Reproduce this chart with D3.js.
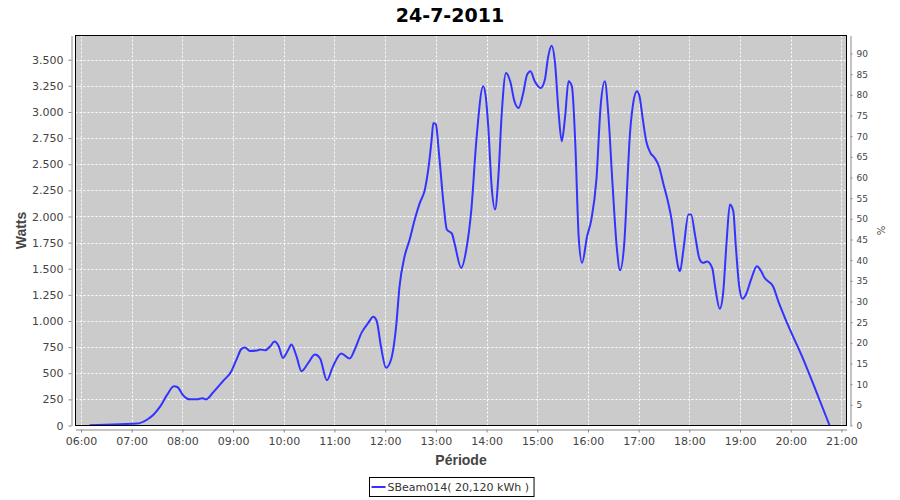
<!DOCTYPE html>
<html>
<head>
<meta charset="utf-8">
<script src="https://cdn.jsdelivr.net/npm/d3@7"></script>
<style>
  html, body { margin: 0; padding: 0; background: #ffffff; }
  svg { display: block; }
</style>
</head>
<body>
<svg id="chart" width="900" height="500"></svg>
<script>
// ---------------- data ----------------
const chartTitle = "24-7-2011";
const seriesName = "SBeam014( 20,120 kWh )";
const times = [
  "06:10","06:38","07:06","07:18","07:26","07:34","07:42","07:50","07:54","08:01",
  "08:09","08:17","08:24","08:28","08:36","08:48","08:58","09:04","09:10","09:14",
  "09:20","09:28","09:32","09:38","09:44","09:49","09:54","09:59","10:05","10:09",
  "10:15","10:21","10:29","10:37","10:43","10:51","10:58","11:08","11:18","11:24",
  "11:32","11:40","11:46","11:50","11:55","12:01","12:07","12:13","12:17","12:23",
  "12:29","12:35","12:41","12:47","12:51","12:55","12:57","13:00","13:04","13:09",
  "13:13","13:19","13:22","13:30","13:36","13:42","13:48","13:56","13:59","14:02",
  "14:06","14:10","14:14","14:18","14:23","14:28","14:33","14:38","14:43","14:48",
  "14:52","14:57","15:04","15:09","15:13","15:17","15:21","15:25","15:29","15:33",
  "15:37","15:41","15:45","15:49","15:53","15:59","16:04","16:10","16:15","16:20",
  "16:24","16:29","16:34","16:38","16:43","16:47","16:49","16:53","16:58","17:01",
  "17:05","17:09","17:14","17:19","17:24","17:29","17:35","17:39","17:43","17:47",
  "17:49","17:53","17:59","18:02","18:07","18:12","18:16","18:21","18:27","18:31",
  "18:36","18:40","18:44","18:48","18:52","18:55","18:59","19:03","19:07","19:13",
  "19:20","19:25","19:29","19:39","19:46","19:56","20:14","20:30","20:46"
];
const watts = [
  3,10,18,55,105,185,295,375,368,287,
  250,250,261,250,313,424,520,630,733,746,
  714,717,727,720,758,803,758,647,720,775,
  663,520,600,679,641,433,561,689,641,727,
  886,982,1040,998,758,552,631,950,1332,1619,
  1779,1970,2130,2257,2448,2735,2895,2880,2575,2130,
  1875,1836,1747,1508,1683,2066,2735,3245,3150,2862,
  2289,2066,2384,2990,3373,3293,3102,3038,3166,3357,
  3389,3293,3230,3309,3532,3634,3469,3022,2719,2958,
  3293,3245,2704,1810,1556,1810,1970,2353,3054,3293,
  2990,2321,1715,1485,1747,2384,2704,3054,3197,3150,
  2927,2719,2608,2560,2480,2321,2130,1970,1715,1508,
  1476,1683,2018,2018,1810,1594,1556,1568,1508,1301,
  1116,1269,1747,2114,2050,1715,1332,1212,1253,1396,
  1524,1476,1413,1332,1173,975,650,330,0
];
const wattTicks = [0,250,500,750,1000,1250,1500,1750,2000,2250,2500,2750,3000,3250,3500];
const percentTicks = [0,5,10,15,20,25,30,35,40,45,50,55,60,65,70,75,80,85,90];
const hourTicks = ["06:00","07:00","08:00","09:00","10:00","11:00","12:00","13:00",
                   "14:00","15:00","16:00","17:00","18:00","19:00","20:00","21:00"];
const xDomainLabels = ["05:53:30","21:06:00"];
const wattMax = 3731.5;
const percentMax = 94.35;

// ---------------- layout ----------------
const svg = d3.select("#chart");
const plot = { left: 75.5, right: 846.5, top: 35.5, bottom: 425.5 };
const tickFont = "DejaVu Sans, sans-serif";
const labelFont = "Liberation Sans, Arial, sans-serif";

const parseHM = d3.timeParse("%H:%M");
const parseHMS = d3.timeParse("%H:%M:%S");
const fmtHM = d3.timeFormat("%H:%M");
const data = times.map((t, i) => ({ t: parseHM(t), w: watts[i] }));

const x = d3.scaleTime()
  .domain(xDomainLabels.map(parseHMS))
  .range([plot.left, plot.right]);
const y = d3.scaleLinear().domain([0, wattMax]).range([plot.bottom, plot.top]);
const yp = d3.scaleLinear().domain([0, percentMax]).range([plot.bottom, plot.top]);

const loc = d3.formatLocale({ decimal: ",", thousands: ".", grouping: [3], currency: ["", ""] });
const fmtW = loc.format(",d");

// title
svg.append("text")
  .attr("x", 450).attr("y", 22)
  .attr("text-anchor", "middle")
  .attr("font-family", tickFont)
  .attr("font-weight", "bold")
  .attr("font-size", 19)
  .attr("fill", "#000")
  .text(chartTitle);

// plot background
svg.append("rect")
  .attr("x", plot.left).attr("y", plot.top)
  .attr("width", plot.right - plot.left).attr("height", plot.bottom - plot.top)
  .attr("fill", "#cbcbcb");

// gridlines
const grid = svg.append("g").attr("stroke", "#ffffff").attr("stroke-width", 1)
  .attr("stroke-dasharray", "2,2").attr("fill", "none");
grid.selectAll("line.h").data(wattTicks).join("line")
  .attr("class", "h")
  .attr("x1", plot.left).attr("x2", plot.right)
  .attr("y1", d => Math.round(y(d)) + 0.5).attr("y2", d => Math.round(y(d)) + 0.5);
grid.selectAll("line.v").data(hourTicks.map(parseHM)).join("line")
  .attr("class", "v")
  .attr("y1", plot.top).attr("y2", plot.bottom)
  .attr("x1", d => Math.round(x(d)) + 0.5).attr("x2", d => Math.round(x(d)) + 0.5);

// clip
svg.append("clipPath").attr("id", "clip").append("rect")
  .attr("x", plot.left).attr("y", plot.top - 2)
  .attr("width", plot.right - plot.left).attr("height", plot.bottom - plot.top + 2);

// line
const line = d3.line()
  .x(d => x(d.t))
  .y(d => y(d.w))
  .curve(d3.curveMonotoneX);
svg.append("path")
  .datum(data)
  .attr("clip-path", "url(#clip)")
  .attr("fill", "none")
  .attr("stroke", "#3333ff")
  .attr("stroke-width", 2)
  .attr("stroke-linejoin", "round")
  .attr("d", line);

// plot outline
svg.append("rect")
  .attr("x", plot.left).attr("y", plot.top)
  .attr("width", plot.right - plot.left).attr("height", plot.bottom - plot.top)
  .attr("fill", "none").attr("stroke", "#000").attr("stroke-width", 1);

function styleAxis(g, size) {
  g.select(".domain").attr("stroke", "#888");
  g.selectAll(".tick line").attr("stroke", "#888");
  g.selectAll(".tick text").attr("fill", "#444")
    .attr("font-family", tickFont).attr("font-size", size);
}

// left axis
const gL = svg.append("g").attr("transform", "translate(71.5,0)")
  .call(d3.axisLeft(y).tickValues(wattTicks).tickFormat(fmtW)
    .tickSize(3).tickSizeOuter(0).tickPadding(5))
  .attr("font-family", null).attr("font-size", null);
styleAxis(gL, 11);

// right axis
const gR = svg.append("g").attr("transform", "translate(850.5,0)")
  .call(d3.axisRight(yp).tickValues(percentTicks)
    .tickSize(2).tickSizeOuter(0).tickPadding(4))
  .attr("font-family", null).attr("font-size", null);
styleAxis(gR, 9);

// bottom axis
const gB = svg.append("g").attr("transform", "translate(0,429.5)")
  .call(d3.axisBottom(x).tickValues(hourTicks.map(parseHM)).tickFormat(fmtHM)
    .tickSize(3).tickSizeOuter(0).tickPadding(5))
  .attr("font-family", null).attr("font-size", null);
styleAxis(gB, 11);

// axis labels
svg.append("text")
  .attr("transform", "translate(26," + ((plot.top + plot.bottom) / 2) + ") rotate(-90)")
  .attr("text-anchor", "middle")
  .attr("font-family", labelFont).attr("font-weight", "bold").attr("font-size", 14)
  .attr("fill", "#444").text("Watts");

svg.append("text")
  .attr("transform", "translate(877," + ((plot.top + plot.bottom) / 2) + ") rotate(90)")
  .attr("text-anchor", "middle")
  .attr("font-family", tickFont).attr("font-size", 10)
  .attr("fill", "#444").text("%");

svg.append("text")
  .attr("x", (plot.left + plot.right) / 2).attr("y", 465)
  .attr("text-anchor", "middle")
  .attr("font-family", labelFont).attr("font-weight", "bold").attr("font-size", 14)
  .attr("fill", "#444").text("Période");

// legend
const lg = svg.append("g");
const lt = lg.append("text")
  .attr("x", 0).attr("y", 0)
  .attr("font-family", tickFont).attr("font-size", 11)
  .attr("fill", "#333").text(seriesName);
const tw = lt.node().getComputedTextLength();
const sampleW = 14, gap = 2, padL = 2, padR = 5;
const boxW = padL + sampleW + gap + tw + padR;
const boxX = Math.round(451 - boxW / 2) + 0.5;
const boxY = 477.5, boxH = 19;
lg.insert("rect", "text")
  .attr("x", boxX).attr("y", boxY).attr("width", boxW).attr("height", boxH)
  .attr("fill", "#fff").attr("stroke", "#000").attr("stroke-width", 1);
lg.append("line")
  .attr("x1", boxX + padL).attr("x2", boxX + padL + sampleW)
  .attr("y1", boxY + boxH / 2).attr("y2", boxY + boxH / 2)
  .attr("stroke", "#3333ff").attr("stroke-width", 2);
lt.attr("x", boxX + padL + sampleW + gap).attr("y", boxY + boxH / 2 + 4);
</script>
</body>
</html>
